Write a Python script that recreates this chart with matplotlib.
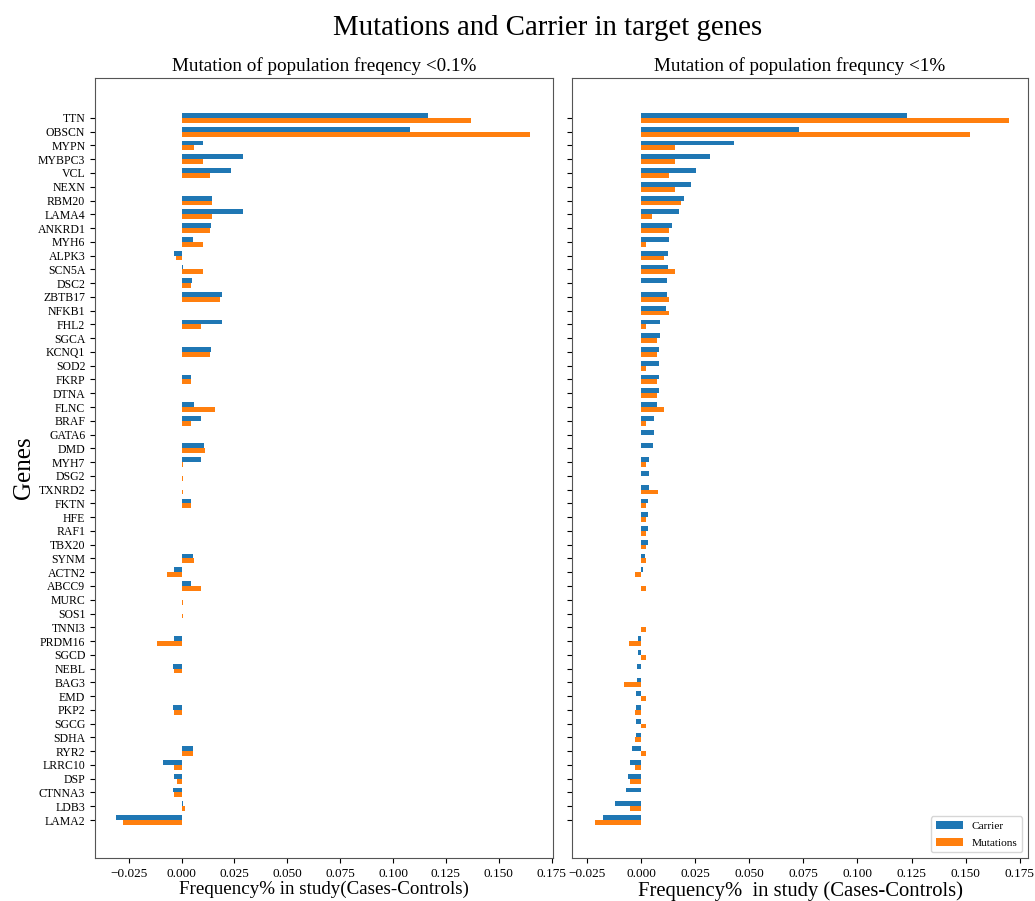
import matplotlib
matplotlib.use('Agg')
import matplotlib.pyplot as plt
import numpy as np

plt.rcParams['font.family'] = ['Liberation Serif', 'DejaVu Serif']

genes = ['TTN', 'OBSCN', 'MYPN', 'MYBPC3', 'VCL', 'NEXN', 'RBM20', 'LAMA4', 'ANKRD1', 'MYH6',
         'ALPK3', 'SCN5A', 'DSC2', 'ZBTB17', 'NFKB1', 'FHL2', 'SGCA', 'KCNQ1', 'SOD2', 'FKRP',
         'DTNA', 'FLNC', 'BRAF', 'GATA6', 'DMD', 'MYH7', 'DSG2', 'TXNRD2', 'FKTN', 'HFE',
         'RAF1', 'TBX20', 'SYNM', 'ACTN2', 'ABCC9', 'MURC', 'SOS1', 'TNNI3', 'PRDM16', 'SGCD',
         'NEBL', 'BAG3', 'EMD', 'PKP2', 'SGCG', 'SDHA', 'RYR2', 'LRRC10', 'DSP', 'CTNNA3',
         'LDB3', 'LAMA2']

# population frequency < 0.1%
carrier_01 = [0.1165, 0.108, 0.0099, 0.0289, 0.0233, 0.0, 0.0145, 0.0289, 0.0139, 0.0055,
              -0.0038, 0.0005, 0.0047, 0.0189, 0.0, 0.0189, 0.0, 0.0139, 0.0, 0.0044,
              0.0, 0.006, 0.0093, 0.0, 0.0104, 0.0093, 0.0002, 0.0002, 0.0044, 0.0,
              0.0, 0.0, 0.0053, -0.0038, 0.0044, 0.0002, 0.0002, 0.0, -0.0038, 0.0,
              -0.0043, 0.0, 0.0, -0.0043, 0.0, 0.0, 0.0052, -0.0087, -0.0035, -0.0043,
              0.0006, -0.031]
mutation_01 = [0.137, 0.165, 0.006, 0.010, 0.0134, 0.0, 0.0142, 0.0142, 0.0134, 0.010,
               -0.0027, 0.010, 0.0044, 0.0181, 0.0, 0.0091, 0.0, 0.0134, 0.0, 0.0044,
               0.0, 0.0158, 0.0043, 0.0, 0.011, 0.0005, 0.0005, 0.0005, 0.0044, 0.0,
               0.0, 0.0, 0.006, -0.0068, 0.0093, 0.0005, 0.0005, 0.0, -0.0118, 0.0,
               -0.0035, 0.0, 0.0, -0.0035, 0.0, 0.0, 0.0052, -0.0035, -0.0021, -0.0035,
               0.0014, -0.0279]

# population frequency < 1%
carrier_1 = [0.1229, 0.0728, 0.0431, 0.032, 0.0253, 0.0231, 0.020, 0.0177, 0.0142, 0.0128,
             0.0123, 0.0123, 0.0119, 0.0119, 0.0114, 0.0088, 0.0088, 0.0085, 0.0085, 0.0085,
             0.0085, 0.0072, 0.0058, 0.0058, 0.0054, 0.0036, 0.0036, 0.0036, 0.003, 0.003,
             0.003, 0.003, 0.002, 0.0008, 0.0002, 0.0001, 0.0001, 0.0001, -0.0012, -0.0014,
             -0.0017, -0.0017, -0.0023, -0.0023, -0.0023, -0.0023, -0.0042, -0.0049, -0.006, -0.0068,
             -0.012, -0.0174]
mutation_1 = [0.170, 0.152, 0.0159, 0.0159, 0.0131, 0.0157, 0.0183, 0.0051, 0.0131, 0.0025,
              0.0105, 0.0159, 0.0, 0.0131, 0.0131, 0.0025, 0.0076, 0.0076, 0.0025, 0.0076,
              0.0076, 0.0106, 0.0025, 0.0, 0.0, 0.0025, 0.0, 0.0079, 0.0025, 0.0025,
              0.0025, 0.0025, 0.0025, -0.0026, 0.0025, 0.0, 0.0, 0.0025, -0.0054, 0.0025,
              0.0, -0.0079, 0.0025, -0.0028, 0.0025, -0.0028, 0.0025, -0.0026, -0.0051, 0.0,
              -0.0051, -0.0211]

n = len(genes)
ypos = np.arange(n)[::-1]
h = 0.35

fig = plt.figure(figsize=(10.35, 9.01), dpi=100)
ax1 = fig.add_axes([95/1035, 1-858/901, (553-95)/1035, (858-78)/901])
ax2 = fig.add_axes([572/1035, 1-858/901, (1028-572)/1035, (858-78)/901], sharey=ax1)

panels = [
    (ax1, carrier_01, mutation_01, 'Mutation of population freqency <0.1%',
     'Frequency% in study(Cases-Controls)', 13.7, (-0.041, 0.1757)),
    (ax2, carrier_1, mutation_1, 'Mutation of population frequncy <1%',
     'Frequency%  in study (Cases-Controls)', 14.9, (-0.0319, 0.1788)),
]
for ax, car, mut, title, xlab, xfs, xl in panels:
    ax.barh(ypos + h/2, car, height=h, color='#1f77b4', label='Carrier')
    ax.barh(ypos - h/2, mut, height=h, color='#ff7f0e', label='Mutations')
    ax.set_title(title, fontsize=13.8, pad=5)
    ax.set_xlabel(xlab, fontsize=xfs, labelpad=1)
    ax.set_xticks([-0.025, 0, 0.025, 0.05, 0.075, 0.1, 0.125, 0.15, 0.175])
    ax.set_xlim(*xl)
    ax.tick_params(axis='x', labelsize=9.5)
    for s in ax.spines.values():
        s.set_color('#555555')

ax1.set_yticks(ypos)
ax1.set_yticklabels(genes, fontsize=8.5)
ax1.set_ylim(-2.76, 53.9)
ax1.set_ylabel('Genes', fontsize=18, labelpad=2)
plt.setp(ax2.get_yticklabels(), visible=False)

ax2.legend(loc='lower right', fontsize=8.2, handlelength=2.4, labelspacing=0.6)

fig.text(548/1035, 1-35/901, 'Mutations and Carrier in target genes', fontsize=20.8,
         ha='center', va='baseline')

fig.savefig('out.png', dpi=100)
